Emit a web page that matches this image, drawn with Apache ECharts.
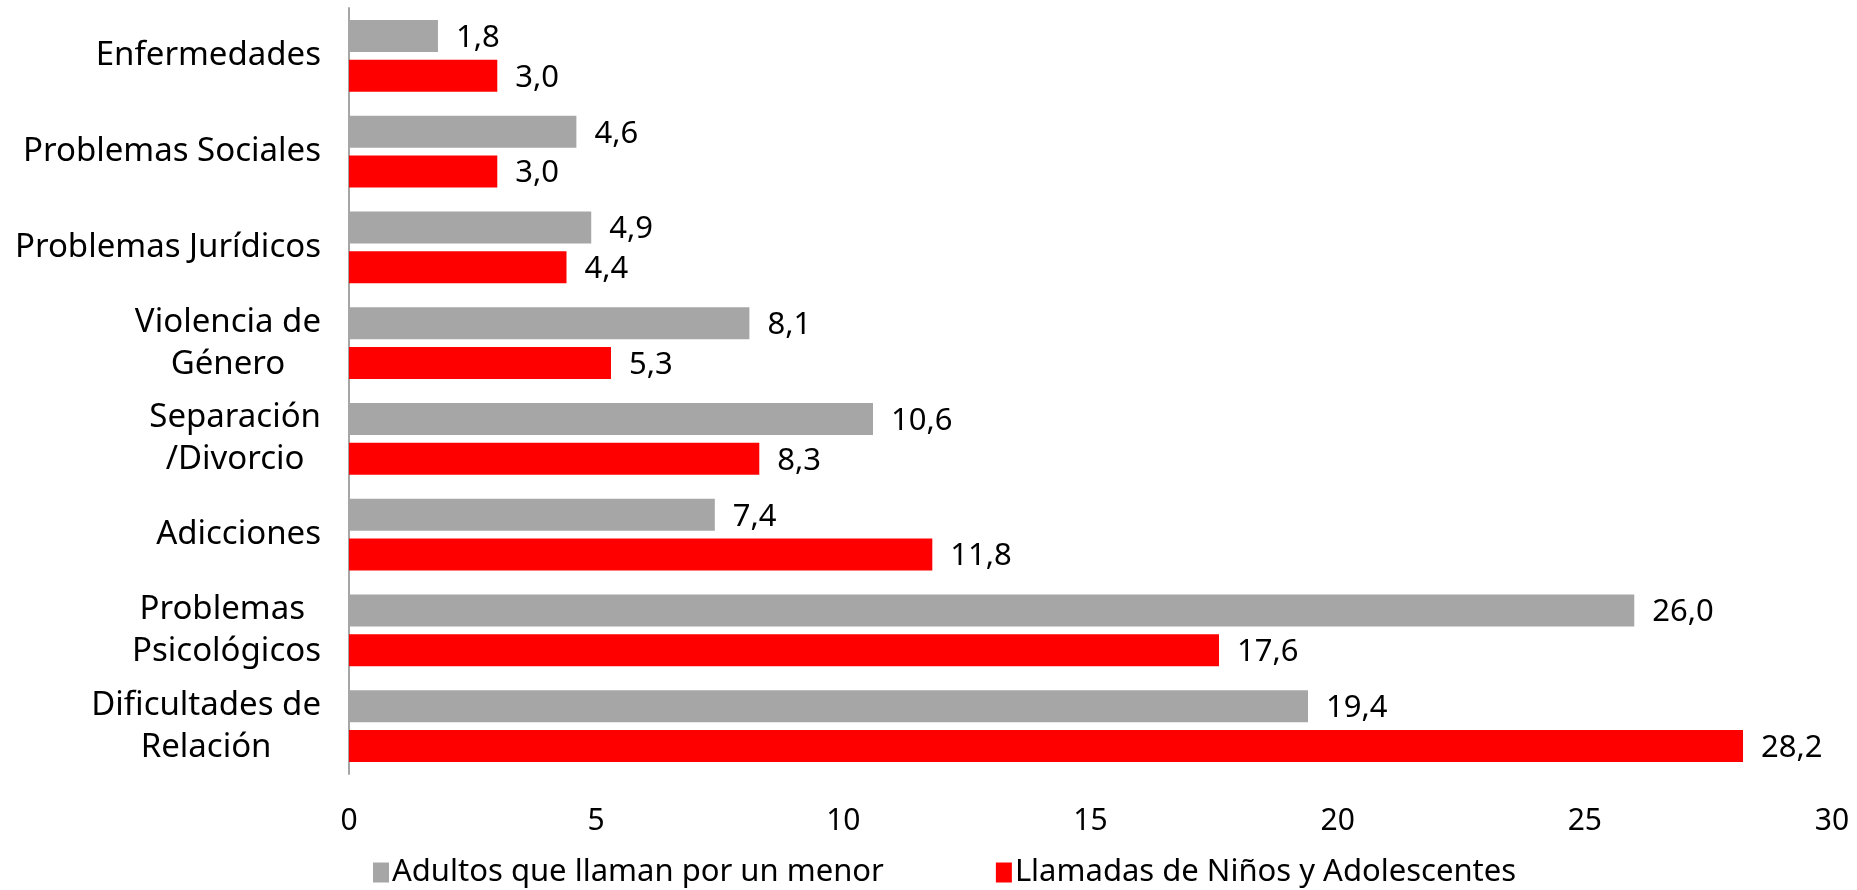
<!DOCTYPE html>
<html>
<head>
<meta charset="utf-8">
<script src="https://cdn.jsdelivr.net/npm/echarts@6/dist/echarts.min.js"></script>
<style>
html,body{margin:0;padding:0;background:#fff;}
#chart{width:1857px;height:890px;}
</style>
</head>
<body>
<div id="chart"></div>
<script>
var categories = ['Enfermedades', 'Problemas Sociales', 'Problemas Jurídicos', 'Violencia de\nGénero',
	'Separación\n/Divorcio', 'Adicciones', 'Problemas \nPsicológicos', 'Dificultades de\nRelación'];
var adultos = [1.8, 4.6, 4.9, 8.1, 10.6, 7.4, 26.0, 19.4];
var ninos = [3.0, 3.0, 4.4, 5.3, 8.3, 11.8, 17.6, 28.2];
var seriesNames = ['Adultos que llaman por un menor', 'Llamadas de Niños y Adolescentes'];
var xTicks = [0, 30, 5];

var font = 'Noto Sans';
var chart = echarts.init(document.getElementById('chart'));

function fmt(p){
	return p.value.toFixed(1).replace('.', ',');
}

chart.setOption({
	animation: false,
	textStyle: {fontFamily: font},
	legend: {
		left: 368,
		top: 852,
		itemWidth: 16,
		itemHeight: 20,
		itemGap: 112,
		icon: 'rect',
		textStyle: {fontSize: 31, color: '#000', fontFamily: font, padding: [0, 0, 0, -2]},
		data: seriesNames
	},
	grid: {left: 349, right: 25, top: 8, bottom: 116, containLabel: false},
	xAxis: {
		type: 'value',
		min: xTicks[0],
		max: xTicks[1],
		interval: xTicks[2],
		axisLine: {show: false},
		axisTick: {show: false},
		splitLine: {show: false},
		axisLabel: {fontSize: 30, color: '#000', margin: 32, fontFamily: font}
	},
	yAxis: {
		type: 'category',
		inverse: true,
		data: categories,
		axisLine: {show: true, lineStyle: {color: '#a6a6a6', width: 2}},
		axisTick: {show: false},
		axisLabel: {
			margin: 28,
			color: '#000',
			fontSize: 33,
			lineHeight: 42,
			formatter: function(v){
				return v.split('\n').map(function(s){ return '{c|' + s + '}'; }).join('\n');
			},
			rich: {c: {align: 'center', fontSize: 33, lineHeight: 42, color: '#000', fontFamily: font}}
		}
	},
	series: [
		{
			name: seriesNames[0],
			type: 'bar',
			data: adultos,
			barGap: '25%',
			barCategoryGap: '25%',
			itemStyle: {color: '#a6a6a6'},
			label: {show: true, position: 'right', distance: 18, fontSize: 31, color: '#000', offset: [0, 2], formatter: fmt}
		},
		{
			name: seriesNames[1],
			type: 'bar',
			data: ninos,
			itemStyle: {color: '#ff0000'},
			label: {show: true, position: 'right', distance: 18, fontSize: 31, color: '#000', offset: [0, 2], formatter: fmt}
		}
	]
});
</script>
</body>
</html>
